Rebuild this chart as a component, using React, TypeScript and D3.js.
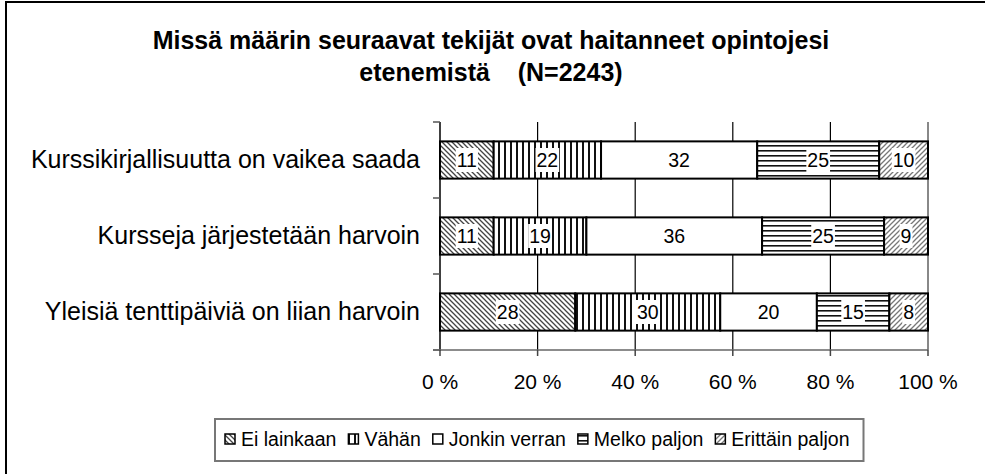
import React, { useRef, useEffect } from 'react';
import * as d3 from 'd3';

// Chart data
const categories = [
  'Kurssikirjallisuutta on vaikea saada',
  'Kursseja järjestetään harvoin',
  'Yleisiä tenttipäiviä on liian harvoin',
];
const seriesNames = ['Ei lainkaan', 'Vähän', 'Jonkin verran', 'Melko paljon', 'Erittäin paljon'];
const eiLainkaan = [11, 11, 28];
const vahan = [22, 19, 30];
const jonkinVerran = [32, 36, 20];
const melkoPaljon = [25, 25, 15];
const erittainPaljon = [10, 9, 8];
const tickValues = [0, 0.2, 0.4, 0.6, 0.8, 1];
const titleLines = ['Missä määrin seuraavat tekijät ovat haitanneet opintojesi', 'etenemistä    (N=2243)'];

const FONT = '"Liberation Sans", Arial, sans-serif';

const App = () => {
  const ref = useRef<SVGSVGElement>(null);

  useEffect(() => {
    const svg = d3.select(ref.current);
    svg.selectAll('*').remove();

    const W = 985;
    const margin = { left: 440, right: 57, top: 122, bottom: 124 };
    const plotBottom = 474 - margin.bottom;

    // patterns
    const defs = svg.append('defs');
    const pat = (id: string, w: number, h: number, draw: (p: any) => void) => {
      const p = defs.append('pattern')
        .attr('id', id)
        .attr('patternUnits', 'userSpaceOnUse')
        .attr('width', w)
        .attr('height', h);
      p.append('rect').attr('width', w).attr('height', h).attr('fill', '#fff');
      draw(p);
    };
    pat('p0', 5, 5, p => {
      p.append('path').attr('d', 'M-1,-1L6,6M-1,4L1,6M4,-1L6,1')
        .attr('stroke', '#444').attr('stroke-width', 1.3);
    });
    pat('p1', 6, 6, p => {
      p.append('rect').attr('x', 0).attr('y', 0).attr('width', 2).attr('height', 6).attr('fill', '#111');
    });
    pat('p2', 4, 4, () => {});
    pat('p3', 5, 5, p => {
      p.append('rect').attr('x', 0).attr('y', 0).attr('width', 5).attr('height', 1.6).attr('fill', '#111');
    });
    pat('p4', 5, 5, p => {
      p.append('path').attr('d', 'M-1,6L6,-1M-1,1L1,-1M4,6L6,4')
        .attr('stroke', '#777').attr('stroke-width', 1.3);
    });

    // outer frame (right/bottom edges fall outside the window)
    svg.append('rect')
      .attr('x', 6).attr('y', 2).attr('width', 1100).attr('height', 600)
      .attr('fill', 'none').attr('stroke', '#000').attr('stroke-width', 2);

    // title
    svg.append('g').selectAll('text')
      .data(titleLines)
      .enter().append('text')
      .attr('x', 491)
      .attr('y', (d, i) => 49 + i * 32)
      .attr('text-anchor', 'middle')
      .attr('font-family', FONT)
      .attr('font-weight', 'bold')
      .attr('font-size', 25)
      .style('white-space', 'pre')
      .text(d => d);

    const x = d3.scaleLinear().domain([0, 1]).range([margin.left, W - margin.right]);
    const y = d3.scaleBand<string>()
      .domain(categories)
      .range([margin.top, plotBottom])
      .paddingInner(0.51)
      .paddingOuter(0.255);

    // gridlines
    svg.append('g').selectAll('line')
      .data(tickValues.slice(1))
      .enter().append('line')
      .attr('x1', d => x(d)).attr('x2', d => x(d))
      .attr('y1', margin.top).attr('y2', plotBottom)
      .attr('stroke', d => (d === 1 ? '#888' : '#000'))
      .attr('stroke-width', d => (d === 1 ? 2 : 1.2));

    // stacked data
    const table = categories.map((c, i) => ({
      cat: c,
      [seriesNames[0]]: eiLainkaan[i],
      [seriesNames[1]]: vahan[i],
      [seriesNames[2]]: jonkinVerran[i],
      [seriesNames[3]]: melkoPaljon[i],
      [seriesNames[4]]: erittainPaljon[i],
    }));
    const stacked = d3.stack<any>().keys(seriesNames).offset(d3.stackOffsetExpand)(table);

    const layers = svg.append('g').selectAll('g')
      .data(stacked)
      .enter().append('g')
      .attr('fill', (d, i) => `url(#p${i})`);

    layers.selectAll('rect')
      .data(d => d)
      .enter().append('rect')
      .attr('x', d => x(d[0]))
      .attr('width', d => x(d[1]) - x(d[0]))
      .attr('y', d => y(d.data.cat)!)
      .attr('height', y.bandwidth())
      .attr('stroke', '#000')
      .attr('stroke-width', 2);

    // data labels with white background
    const labels = svg.append('g');
    stacked.forEach(layer => {
      layer.forEach(d => {
        const v = d.data[layer.key];
        const cx = (x(d[0]) + x(d[1])) / 2;
        const cy = y(d.data.cat)! + y.bandwidth() / 2;
        const t = labels.append('text')
          .attr('x', cx)
          .attr('y', cy + 7)
          .attr('text-anchor', 'middle')
          .attr('font-family', FONT)
          .attr('font-size', 19.5)
          .text(v);
        const w = (t.node() as SVGTextElement).getComputedTextLength();
        labels.insert('rect', () => t.node())
          .attr('x', cx - w / 2 - 1)
          .attr('y', cy - 12)
          .attr('width', w + 2)
          .attr('height', 24)
          .attr('fill', '#fff');
      });
    });

    // category axis
    svg.append('line')
      .attr('x1', margin.left).attr('x2', margin.left)
      .attr('y1', margin.top).attr('y2', plotBottom + 1)
      .attr('stroke', '#000').attr('stroke-width', 1.5);
    svg.append('g').selectAll('line')
      .data(d3.range(categories.length + 1))
      .enter().append('line')
      .attr('x1', margin.left - 7).attr('x2', margin.left)
      .attr('y1', i => margin.top + i * y.step())
      .attr('y2', i => margin.top + i * y.step())
      .attr('stroke', '#555').attr('stroke-width', 1.5);
    svg.append('g').selectAll('text')
      .data(categories)
      .enter().append('text')
      .attr('x', 420)
      .attr('y', d => y(d)! + y.bandwidth() / 2 + 8)
      .attr('text-anchor', 'end')
      .attr('font-family', FONT)
      .attr('font-size', 25)
      .text(d => d);

    // value axis
    svg.append('line')
      .attr('x1', margin.left - 7).attr('x2', x(1))
      .attr('y1', plotBottom).attr('y2', plotBottom)
      .attr('stroke', '#666').attr('stroke-width', 1.5);
    svg.append('g').selectAll('line')
      .data(tickValues)
      .enter().append('line')
      .attr('x1', d => x(d)).attr('x2', d => x(d))
      .attr('y1', plotBottom).attr('y2', plotBottom + 6)
      .attr('stroke', '#444').attr('stroke-width', 1.5);
    svg.append('g').selectAll('text')
      .data(tickValues)
      .enter().append('text')
      .attr('x', d => x(d))
      .attr('y', 389)
      .attr('text-anchor', 'middle')
      .attr('font-family', FONT)
      .attr('font-size', 21)
      .text(d => `${Math.round(d * 100)} %`);

    // legend
    const lg = svg.append('g');
    const box = lg.append('rect')
      .attr('y', 419).attr('height', 42)
      .attr('fill', '#fff').attr('stroke', '#777').attr('stroke-width', 2);
    let cx = 225;
    seriesNames.forEach((name, i) => {
      lg.append('rect')
        .attr('x', cx).attr('y', 434).attr('width', 10).attr('height', 10)
        .attr('fill', `url(#p${i})`).attr('stroke', '#000').attr('stroke-width', 1.5);
      const t = lg.append('text')
        .attr('x', cx + 16).attr('y', 446)
        .attr('font-family', FONT)
        .attr('font-size', 19.5)
        .text(name);
      cx += 16 + (t.node() as SVGTextElement).getComputedTextLength() + 12;
    });
    box.attr('x', 215).attr('width', cx - 215 + 2);
  }, []);

  return (
    <svg
      ref={ref}
      width={985}
      height={474}
      style={{ position: 'fixed', left: 0, top: 0, background: '#fff' }}
    />
  );
};

export default App;
